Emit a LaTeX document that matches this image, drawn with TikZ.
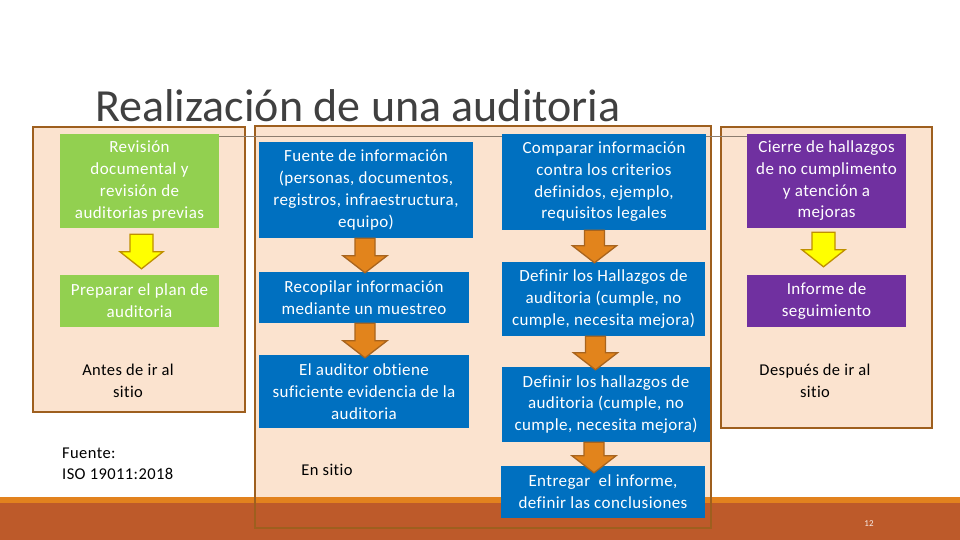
\documentclass[tikz,border=0pt]{standalone}
\usepackage{fontspec}
\setmainfont{Carlito}[Ligatures={NoCommon}]
\newfontfamily\boxfont{Carlito}[Ligatures={NoCommon}, LetterSpace=2.5]
\usetikzlibrary{calc}
\definecolor{peach}{HTML}{FBE3CF}
\definecolor{panelborder}{HTML}{9E5F1E}
\definecolor{grn}{HTML}{92D050}
\definecolor{blu}{HTML}{0070C0}
\definecolor{purp}{HTML}{7030A0}
\definecolor{arrorange}{HTML}{E2841C}
\definecolor{arrorangeb}{HTML}{A8641E}
\definecolor{yel}{HTML}{FFFF00}
\definecolor{yelb}{HTML}{BF9000}
\definecolor{stripe}{HTML}{E2821E}
\definecolor{rust}{HTML}{BD5A2A}
\definecolor{titlegray}{HTML}{404040}
\definecolor{rulegray}{HTML}{8C7D6E}
\tikzset{
  panelfill/.style={fill=peach},
  panelline/.style={draw=panelborder, line width=2pt},
  boxbase/.style={inner sep=0pt, align=center, text=white,
    font=\boxfont\fontsize{17}{21.7}\selectfont},
  gbox/.style={boxbase, fill=grn},
  bbox/.style={boxbase, fill=blu},
  pbox/.style={boxbase, fill=purp},
  yarr/.style={fill=yel, draw=yelb, line width=1.3pt, line join=miter},
  oarr/.style={fill=arrorange, draw=arrorangeb, line width=1.3pt, line join=miter},
  lbl/.style={align=center, text=black, font=\boxfont\fontsize{16.5}{21.5}\selectfont, inner sep=0pt}
}
% block arrow: style, from, to, dx, topgap, tipoffset, shaft half width, head half width
\newcommand\barr[8]{%
  \draw[#1] let \p1=($(#2.south)+(#4,#5)$), \p2=($(#3.north)+(#4,#6)$) in
    (\x1-#7pt,\y1) -- (\x1+#7pt,\y1) -- (\x1+#7pt,\y2+17pt) -- (\x1+#8pt,\y2+17pt)
    -- (\x1,\y2) -- (\x1-#8pt,\y2+17pt) -- (\x1-#7pt,\y2+17pt) -- cycle;}
\begin{document}
\begin{tikzpicture}[x=1pt,y=-1pt]
\useasboundingbox (0,0) rectangle (960,540);
\fill[white] (0,0) rectangle (960,540);
% panels (fill)
\fill[panelfill] (33,127) rectangle (245,412);
\fill[panelfill] (255,126) rectangle (711,528);
\fill[panelfill] (721,127) rectangle (932,428);
% footer
\fill[stripe] (0,497) rectangle (960,503);
\fill[rust] (0,503) rectangle (960,540);
% panel borders
\draw[panelline] (33,127) rectangle (245,412);
\draw[panelline] (255,126) rectangle (711,528);
\draw[panelline] (721,127) rectangle (932,428);
% title and rule
\node[anchor=base west, inner sep=0pt, text=titlegray, font=\fontsize{46}{52}\selectfont] (title) at (95,122) {Realización de una auditoria};
\draw[rulegray, line width=0.8pt] (218,136) -- (747,136);
% column 1
\node[gbox, minimum width=159pt, minimum height=94pt] (b1) at (139.5,181) {Revisión\\documental y\\revisión de\\auditorias previas};
\node[gbox, minimum width=159pt, minimum height=52pt] (b2) at (139.5,301) {Preparar el plan de\\auditoria};
% column 2
\node[bbox, minimum width=214pt, minimum height=96pt] (c1) at (366,190) {Fuente de información\\(personas, documentos,\\registros, infraestructura,\\equipo)};
\node[bbox, minimum width=210pt, minimum height=51pt] (c2) at (364,297.5) {Recopilar información\\mediante un muestreo};
\node[bbox, minimum width=210pt, minimum height=73pt] (c3) at (364,391.5) {El auditor obtiene\\suficiente evidencia de la\\auditoria};
% column 3
\node[bbox, minimum width=204pt, minimum height=96pt] (d1) at (604,182) {Comparar información\\contra los criterios\\definidos, ejemplo,\\requisitos legales};
\node[bbox, minimum width=203pt, minimum height=74pt] (d2) at (603.5,299) {Definir los Hallazgos de\\auditoria (cumple, no\\cumple, necesita mejora)};
\node[bbox, minimum width=208pt, minimum height=75pt] (d3) at (606,404.5) {Definir los hallazgos de\\auditoria (cumple, no\\cumple, necesita mejora)};
\node[bbox, minimum width=204pt, minimum height=52pt] (d4) at (603,492) {Entregar\ \ el informe,\\definir las conclusiones};
% column 4
\node[pbox, minimum width=159pt, minimum height=94pt] (e1) at (826.5,181) {Cierre de hallazgos\\de no cumplimento\\y atención a\\mejoras};
\node[pbox, minimum width=159pt, minimum height=52pt] (e2) at (826.5,301) {Informe de\\seguimiento};
% arrows
\barr{yarr}{b1}{b2}{2}{6}{-6}{11.5}{21.5}
\barr{oarr}{c1}{c2}{-1}{0}{1}{10}{22}
\barr{oarr}{c2}{c3}{1}{0}{3}{10}{22}
\barr{oarr}{d1}{d2}{-9.5}{0}{1}{10}{22}
\barr{oarr}{d2}{d3}{-8}{0}{3}{10}{22}
\barr{oarr}{d3}{d4}{-12}{0}{7}{10}{22}
\barr{yarr}{e1}{e2}{-3}{4}{-8}{11.5}{21.5}
% labels
\node[lbl] (antes) at (128,381) {Antes de ir al\\sitio};
\node[lbl, anchor=west, align=left] (fuente) at (62,464) {Fuente:\\ISO 19011:2018};
\node[lbl] (ensitio) at (327,470) {En sitio};
\node[lbl] (despues) at (815,381) {Después de ir al\\sitio};
\node[inner sep=0pt, text=white!90!rust, font=\fontsize{9}{10}\selectfont] (pagenum) at (869,524) {12};
\end{tikzpicture}
\end{document}
